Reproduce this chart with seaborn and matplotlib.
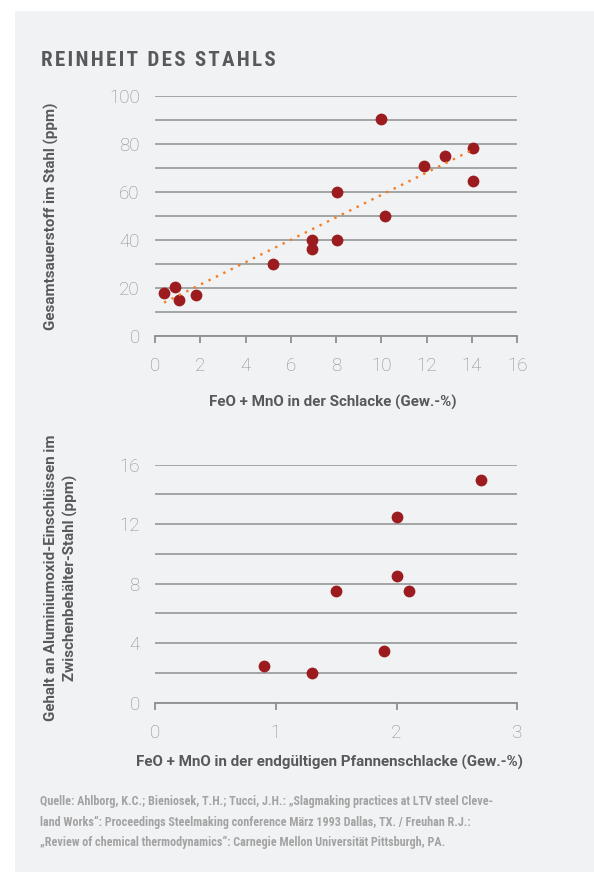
import matplotlib
matplotlib.use("Agg")
import matplotlib.pyplot as plt
import seaborn as sns
import numpy as np
import pandas as pd
from matplotlib.patches import Rectangle
from matplotlib.ticker import MultipleLocator

# ---------------- data ----------------
feo_slag = [0.4, 0.9, 1.05, 1.8, 5.2, 6.95, 6.95, 8.05, 8.05, 10.0, 10.15, 11.9, 12.8, 14.05, 14.05]
oxygen_ppm = [18, 20.5, 15, 17, 30, 40, 36.5, 60, 40, 90.5, 50, 71, 75, 78.5, 64.5]

feo_ladle = [0.9, 1.3, 1.5, 1.9, 2.0, 2.0, 2.1, 2.7]
alumina_ppm = [2.5, 2.0, 7.5, 3.5, 12.5, 8.5, 7.5, 15.0]

title = "REINHEIT DES STAHLS"
xlabel_top = "FeO + MnO in der Schlacke (Gew.-%)"
ylabel_top = "Gesamtsauerstoff im Stahl (ppm)"
xlabel_bot = "FeO + MnO in der endgültigen Pfannenschlacke (Gew.-%)"
ylabel_bot = "Gehalt an Aluminiumoxid-Einschlüssen im\nZwischenbehälter-Stahl (ppm)"
source = ("Quelle: Ahlborg, K.C.; Bieniosek, T.H.; Tucci, J.H.: „Slagmaking practices at LTV steel Cleve-\n"
          "land Works“: Proceedings Steelmaking conference März 1993 Dallas, TX. / Freuhan R.J.:\n"
          "„Review of chemical thermodynamics“: Carnegie Mellon Universität Pittsburgh, PA.")

df_top = pd.DataFrame({"x": feo_slag, "y": oxygen_ppm})
df_bot = pd.DataFrame({"x": feo_ladle, "y": alumina_ppm})

# ---------------- style ----------------
sns.set_style("white")
NARROW = ["Roboto Condensed", "Liberation Sans Narrow", "DejaVu Sans"]
LABELF = ["Roboto", "DejaVu Sans"]
plt.rcParams["font.family"] = ["Roboto", "DejaVu Sans"]
plt.rcParams["font.weight"] = "light"

PANEL = "#f1f2f4"
RED = "#9b1b1f"
ORANGE = "#f47b20"
GRID = "#8f8f8f"
TICK = "#8e8e8e"
LABEL = "#58595b"

W, H = 594, 872
fig = plt.figure(figsize=(W / 100, H / 100), dpi=100, facecolor="white")
fig.patches.append(Rectangle((15 / W, 0), 1, 1 - 11 / H, transform=fig.transFigure,
                             facecolor=PANEL, edgecolor="none", zorder=-10))


def px_axes(x0, x1, ytop, ybot):
    return fig.add_axes([x0 / W, 1 - ybot / H, (x1 - x0) / W, (ybot - ytop) / H])


def style_axes(ax, xmax, xstep, ymax, ymajor, yminor):
    ax.set_facecolor("none")
    ax.set_xlim(0, xmax)
    ax.set_ylim(0, ymax)
    ax.xaxis.set_major_locator(MultipleLocator(xstep))
    ax.yaxis.set_major_locator(MultipleLocator(ymajor))
    ax.yaxis.set_minor_locator(MultipleLocator(yminor))
    for s in ["top", "right", "left"]:
        ax.spines[s].set_visible(False)
    ax.spines["bottom"].set_color(GRID)
    ax.spines["bottom"].set_linewidth(1.3)
    ax.grid(axis="y", which="both", color=GRID, linewidth=1.1)
    ax.grid(axis="x", visible=False)
    ax.set_axisbelow(True)
    ax.tick_params(axis="y", which="both", length=0, pad=11, labelsize=13.5, labelcolor=TICK)
    ax.tick_params(axis="x", which="major", length=5, width=1.3, color=GRID, direction="out",
                   pad=10, labelsize=13.5, labelcolor=TICK, bottom=True)
    ax.set_xlabel("")
    ax.set_ylabel("")


# ---------------- top chart ----------------
ax1 = px_axes(155, 517.3, 96.3, 336)
sns.scatterplot(data=df_top, x="x", y="y", ax=ax1, color=RED, s=72, linewidth=0,
                zorder=3, clip_on=False, legend=False)
sns.regplot(data=df_top, x="x", y="y", ax=ax1, scatter=False, ci=None, truncate=True,
            line_kws=dict(color=ORANGE, linewidth=1.7, linestyle=(0, (1, 2.5)), zorder=4))
style_axes(ax1, 16, 2, 100, 20, 10)
fig.text(333 / W, 1 - 402 / H, xlabel_top, ha="center", va="center", fontsize=10.9,
         fontweight="bold", color=LABEL, family=LABELF)
fig.text(51 / W, 1 - 216 / H, ylabel_top, ha="center", va="center", rotation=90,
         fontsize=10.9, fontweight="bold", color=LABEL, family=LABELF)

# ---------------- bottom chart ----------------
ax2 = px_axes(155, 517.3, 464.7, 702.7)
sns.scatterplot(data=df_bot, x="x", y="y", ax=ax2, color=RED, s=72, linewidth=0,
                zorder=3, clip_on=False, legend=False)
style_axes(ax2, 3, 1, 16, 4, 2)
fig.text(330 / W, 1 - 762 / H, xlabel_bot, ha="center", va="center", fontsize=10.9,
         fontweight="bold", color=LABEL, family=LABELF)
fig.text(61 / W, 1 - 578 / H, ylabel_bot, ha="center", va="center", rotation=90,
         fontsize=10.9, fontweight="bold", color=LABEL, family=LABELF,
         multialignment="center", linespacing=1.5)

# ---------------- title & source ----------------
fig.text(41 / W, 1 - 61 / H, "\u200a".join(title), ha="left", va="center", fontsize=15.1,
         fontweight="bold", color=LABEL, family=NARROW)
fig.text(40 / W, 1 - 822 / H, source, ha="left", va="center", fontsize=8.7,
         fontweight="bold", color="#a3a3a3", linespacing=1.72, family=NARROW)

fig.savefig("out.png", dpi=100, facecolor="white")
